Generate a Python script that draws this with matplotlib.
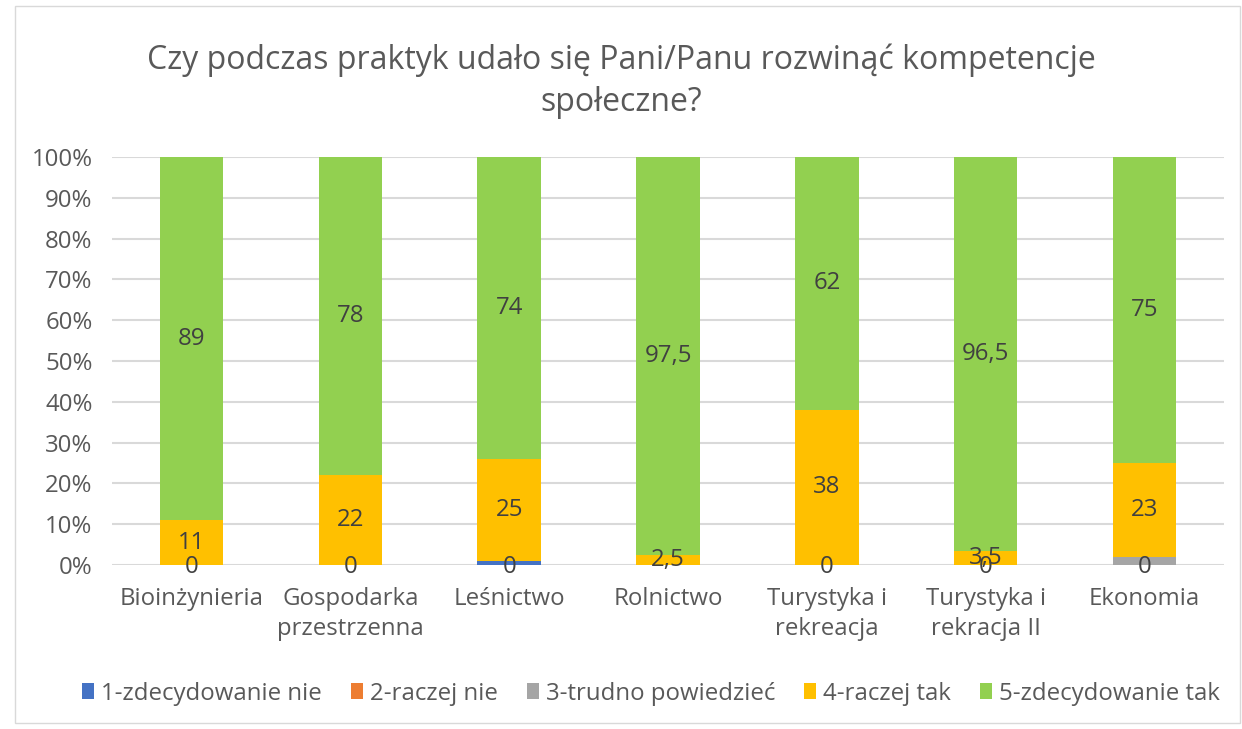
#!/usr/bin/env python3
"""
100% stacked bar chart: development of social competences during internships.
"""

import numpy as np
import matplotlib.pyplot as plt
from matplotlib.patches import Rectangle

categories = ["Bioinżynieria", "Gospodarka\nprzestrzenna", "Leśnictwo", "Rolnictwo",
              "Turystyka i\nrekreacja", "Turystyka i\nrekracja II", "Ekonomia"]
series_names = ["1-zdecydowanie nie", "2-raczej nie", "3-trudno powiedzieć",
                "4-raczej tak", "5-zdecydowanie tak"]
s1 = [0, 0, 1, 0, 0, 0, 0]
s2 = [0, 0, 0, 0, 0, 0, 0]
s3 = [0, 0, 0, 0, 0, 0, 2]
s4 = [11, 22, 25, 2.5, 38, 3.5, 23]
s5 = [89, 78, 74, 97.5, 62, 96.5, 75]
bottom_labels = ["0", "0", "0", "", "0", "0", "0"]
colors = ["#4472c4", "#ed7d31", "#a5a5a5", "#ffc000", "#92d050"]

plt.rcParams['font.family'] = ['Open Sans', 'DejaVu Sans']
txt = "#595959"
fs = 17.3

fig = plt.figure(figsize=(12.42, 7.29), dpi=100)
ax = fig.add_axes([112 / 1242, 1 - 565 / 729, 1112 / 1242, 408 / 729])

x = np.arange(len(categories))
data = [s1, s2, s3, s4, s5]
bottom = np.zeros(len(categories))
for vals, name, col in zip(data, series_names, colors):
    v = np.array(vals, dtype=float)
    ax.bar(x, v, 0.4, bottom=bottom, color=col, label=name, zorder=3)
    if name.startswith(("4", "5")):
        for xi, b, vi in zip(x, bottom, v):
            ax.text(xi, b + vi / 2, f"{vi:g}".replace(".", ","), ha="center",
                    va="center", fontsize=fs, color="#404040", zorder=4)
    bottom += v

# zero labels at the base of each bar
for xi, lab in zip(x, bottom_labels):
    ax.text(xi, -0.5, lab, ha="center", va="center", fontsize=fs, color="#404040", zorder=4)

ax.set_xlim(-0.5, len(categories) - 0.5)
ax.set_ylim(0, 100)
ax.set_yticks(np.arange(0, 101, 10))
ax.set_yticklabels([f"{t}%" for t in range(0, 101, 10)])
ax.set_xticks(x)
ax.set_xticklabels(categories, linespacing=1.3)
ax.grid(axis="y", color="#d9d9d9", linewidth=1.5, zorder=0)
for sp in ax.spines.values():
    sp.set_visible(False)
ax.tick_params(length=0, labelsize=fs, colors=txt)
ax.tick_params(axis="x", pad=16)
ax.tick_params(axis="y", pad=14)

fig.suptitle("Czy podczas praktyk udało się Pani/Panu rozwinąć kompetencje\nspołeczne?",
             y=0.94, fontsize=23, color=txt, linespacing=1.35)

ax.legend(loc="center", bbox_to_anchor=(0.5 * 1242 / 1112 - 112 / 1112 + 0.027, -0.315),
          ncol=5, frameon=False, fontsize=fs, handlelength=0.5, handleheight=0.6,
          handletextpad=0.3, columnspacing=1.2, labelcolor=txt)

fig.add_artist(Rectangle((15 / 1242, 6 / 729), 1225 / 1242, 717 / 729, transform=fig.transFigure,
                         fill=False, edgecolor="#d9d9d9", linewidth=1))

fig.savefig("out.png", dpi=100)
